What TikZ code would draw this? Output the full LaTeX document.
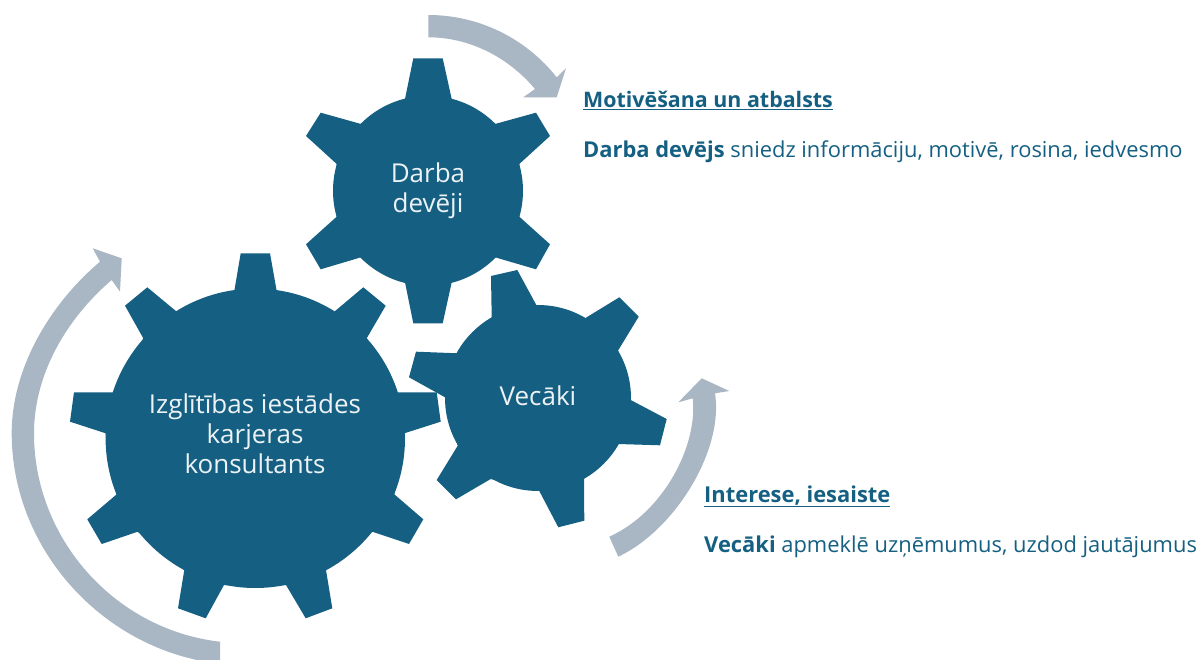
\documentclass[tikz,border=0pt]{standalone}
\usepackage{fontspec}
\setmainfont{Open Sans}
\definecolor{gearblue}{HTML}{156082}
\definecolor{arrowgrey}{HTML}{A9B6C3}
\tikzset{
  gearfill/.style={fill=gearblue,draw=none},
  arrowfill/.style={fill=arrowgrey,draw=none},
  geartext/.style={text=white!92!gearblue,align=center,font=\fontsize{26}{30}\selectfont,inner sep=0pt},
  sidetext/.style={text=gearblue,anchor=base west,inner sep=0pt,font=\fontsize{21.9}{26}\selectfont},
}
\begin{document}
\begin{tikzpicture}[x=1pt,y=-1pt]
\useasboundingbox (0,0) rectangle (1200,660);
\clip (0,0) rectangle (1200,660);
% arrows
\fill[arrowfill] (428.3,15) .. controls (478.4,15) and (525.7,38) .. (556.7,77.3) -- (566,68.3) -- (556.7,97.3) -- (523.3,97.3) -- (535,89) .. controls (508.6,57.5) and (469.7,37.3) .. (428.3,37.3) -- cycle;
\fill[arrowfill] (618.3,556.7) .. controls (675,530) and (724,450) .. (715,393.3) -- (729.3,391) -- (701.7,378.3) -- (678.3,402.3) -- (692.7,398.3) .. controls (698,445) and (664,512) .. (609.3,536.7) -- cycle;
\fill[arrowfill] (220,663.8) .. controls (104,650.8) and (11.7,550) .. (11.7,433.3) .. controls (11.7,368) and (50,304) .. (100,261.7) -- (92.7,248.3) -- (121.7,258.3) -- (120,291.7) -- (111.7,280) .. controls (67.6,317.7) and (34,373) .. (34,433.3) .. controls (34,539) and (115,629.7) .. (220,641.7) -- cycle;
% gear: Darba devēji
\fill[gearfill] (428,190.8) circle[radius=95];
\fill[gearfill] (405,99) -- (413.3,58.3) -- (442.7,58.3) -- (451.7,99) -- (495,124) -- (536,112.7) -- (550,136) -- (519.3,164) -- (519.3,216.7) -- (550,244.3) -- (536,269.3) -- (495,257.3) -- (451.7,282.3) -- (442.7,323.3) -- (413.3,323.3) -- (405,282.3) -- (361,257.3) -- (320.7,269.3) -- (306,244.3) -- (336.7,216.7) -- (336.7,164) -- (306,136) -- (320.7,112.7) -- (361,124) -- cycle;
% gear: Vecāki
\fill[gearfill] (538,398) circle[radius=93];
\fill[gearfill] (491.7,317.3) -- (491,276) -- (517.3,270) -- (536.7,305.7) -- (585,318.3) -- (619.3,297.3) -- (638.7,316.7) -- (618,350.7) -- (630.7,400) -- (666.7,419) -- (660,445.3) -- (618,444) -- (584,478.3) -- (584.3,520.7) -- (558.3,527.3) -- (539.3,491) -- (490.7,479) -- (456,499.3) -- (436.7,480) -- (457.7,445.7) -- (445,397.3) -- (409,377.3) -- (416,351.7) -- (457.7,353.3) -- cycle;
% gear: Izglītības
\fill[gearfill] (255.3,438.3) circle[radius=149.7];
\fill[gearfill] (234.3,291) -- (240.7,253.3) -- (270,253.3) -- (276.7,291) -- (334.3,311.7) -- (363.3,287.3) -- (385.7,305.7) -- (366.7,338.3) -- (396.7,392.3) -- (436.7,392.3) -- (440.7,421.7) -- (404.3,433.3) -- (394.3,494.3) -- (423.3,519.3) -- (409,544) -- (372.3,531.7) -- (326,570) -- (332.3,608.3) -- (305.7,618.3) -- (286,585) -- (224,585) -- (205.7,618.3) -- (178,608.3) -- (184.3,570) -- (137.7,531.7) -- (101.7,544) -- (87.3,519.3) -- (116.7,494.3) -- (105.7,433.3) -- (70,421.7) -- (74,392.3) -- (114,392.3) -- (143.3,338.3) -- (125,305.7) -- (147.3,287.3) -- (176.7,311.7) -- cycle;
% gear labels
\node[geartext] (darba) at (428,191) {Darba\\devēji};
\node[geartext] (vecaki) at (538,396) {Vecāki};
\node[geartext] (izgl) at (255,434) {Izglītības iestādes\\karjeras\\konsultants};
% side texts
\node[sidetext,font=\fontsize{21.4}{26}\selectfont] (motiv) at (583,108) {\textbf{\underline{Motivēšana un atbalsts}}};
\node[sidetext] (darbat) at (583,158) {\textbf{Darba devējs} sniedz informāciju, motivē, rosina, iedvesmo};
\node[sidetext] (inter) at (704,502) {\textbf{\underline{Interese, iesaiste}}};
\node[sidetext] (vect) at (704,552) {\textbf{Vecāki} apmeklē uzņēmumus, uzdod jautājumus};
\end{tikzpicture}
\end{document}
